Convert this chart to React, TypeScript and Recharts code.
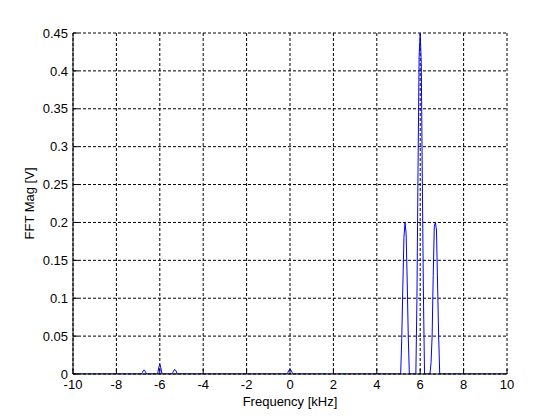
import React from 'react';
import { LineChart, Line, XAxis, YAxis, CartesianGrid } from 'recharts';

// Frequency axis samples (kHz) and FFT magnitude (V)
const freqKHz = [
  -10, -6.85, -6.8, -6.75, -6.7, -6.65, -6.6,
  -6.1, -6.05, -6.0, -5.95, -5.9,
  -5.45, -5.4, -5.35, -5.3, -5.25, -5.2,
  -0.15, -0.1, -0.05, 0, 0.05, 0.1, 0.15,
  5.1, 5.15, 5.2, 5.25, 5.3, 5.35, 5.4, 5.45, 5.5,
  5.8, 5.85, 5.9, 5.95, 6.0, 6.05, 6.1, 6.15, 6.2,
  6.45, 6.5, 6.55, 6.6, 6.65, 6.7, 6.75, 6.8, 6.85, 6.9,
  10,
];
const magV = [
  0, 0, 0.002, 0.005, 0.005, 0.002, 0,
  0, 0.008, 0.013, 0.008, 0,
  0, 0.002, 0.005, 0.006, 0.004, 0,
  0, 0.002, 0.005, 0.006, 0.005, 0.002, 0,
  0, 0.047, 0.115, 0.18, 0.2, 0.186, 0.124, 0.05, 0,
  0, 0.1, 0.27, 0.42, 0.449, 0.41, 0.25, 0.1, 0,
  0, 0.015, 0.05, 0.13, 0.195, 0.2, 0.19, 0.12, 0.05, 0,
  0,
];

const xTicks = [-10, -8, -6, -4, -2, 0, 2, 4, 6, 8, 10];
const yTicks = [0, 0.05, 0.1, 0.15, 0.2, 0.25, 0.3, 0.35, 0.4, 0.45];
const yTickLabels = ['0', '0.05', '0.1', '0.15', '0.2', '0.25', '0.3', '0.35', '0.4', '0.45'];

const xLabel = 'Frequency [kHz]';
const yLabel = 'FFT Mag [V]';

const data = freqKHz.map((f, i) => ({ f, m: magV[i] }));

const FONT = '"Liberation Sans", Arial, Helvetica, sans-serif';
const FS = 13;
const TL = 5;
const BOTTOM_MARGIN = 6;
const LEFT_MARGIN = 5;

const BottomTick = (props: any) => {
  const { x, y, payload } = props;
  const axisY = y - BOTTOM_MARGIN;
  return (
    <g>
      <line x1={x} x2={x} y1={axisY} y2={axisY - TL} stroke="#000" strokeWidth={1} />
      <text x={x} y={y} dy="0.71em" textAnchor="middle" fontSize={FS} fontFamily={FONT} fill="#000">
        {String(payload.value)}
      </text>
    </g>
  );
};

const LeftTick = (props: any) => {
  const { x, y, payload, index } = props;
  const axisX = x + LEFT_MARGIN;
  const idx = yTicks.indexOf(payload.value);
  const label = idx >= 0 ? yTickLabels[idx] : String(payload.value);
  return (
    <g>
      <line x1={axisX} x2={axisX + TL} y1={y} y2={y} stroke="#000" strokeWidth={1} />
      <text x={x} y={y} dy="0.355em" textAnchor="end" fontSize={FS} fontFamily={FONT} fill="#000">
        {label}
      </text>
    </g>
  );
};

const TopTick = (props: any) => {
  const { x, y } = props;
  return <line x1={x} x2={x} y1={y} y2={y + TL} stroke="#000" strokeWidth={1} />;
};

const RightTick = (props: any) => {
  const { x, y } = props;
  return <line x1={x} x2={x - TL} y1={y} y2={y} stroke="#000" strokeWidth={1} />;
};

const XLabelContent = (props: any) => {
  const { viewBox } = props;
  const cx = viewBox.x + viewBox.width / 2;
  return (
    <text x={cx} y={viewBox.y + 32} textAnchor="middle" fontSize={FS} fontFamily={FONT} fill="#000">
      {xLabel}
    </text>
  );
};

const YLabelContent = (props: any) => {
  const { viewBox } = props;
  const cx = viewBox.x + 29;
  const cy = viewBox.y + viewBox.height / 2;
  return (
    <text
      x={cx}
      y={cy}
      dy="0.355em"
      textAnchor="middle"
      fontSize={FS}
      fontFamily={FONT}
      fill="#000"
      transform={`rotate(-90 ${cx} ${cy})`}
    >
      {yLabel}
    </text>
  );
};

export default function App() {
  return (
    <div style={{ position: 'absolute', left: 0, top: 0, width: 560, height: 420, background: '#fff' }}>
      <LineChart width={560} height={420} data={data} margin={{ top: 33, right: 53, bottom: 0, left: 0 }}>
        <CartesianGrid stroke="#000" strokeDasharray="3 2" strokeWidth={1} />
        <XAxis
          dataKey="f"
          type="number"
          domain={[-10, 10]}
          ticks={xTicks}
          allowDataOverflow
          height={46}
          tickSize={0}
          tickMargin={BOTTOM_MARGIN}
          tickLine={false}
          axisLine={{ stroke: '#000', strokeWidth: 1 }}
          tick={<BottomTick />}
          interval={0}
          label={{ content: <XLabelContent /> }}
        />
        <XAxis
          xAxisId="top"
          dataKey="f"
          type="number"
          orientation="top"
          domain={[-10, 10]}
          ticks={xTicks}
          allowDataOverflow
          height={0}
          tickSize={0}
          tickMargin={0}
          tickLine={false}
          axisLine={{ stroke: '#000', strokeWidth: 1 }}
          tick={<TopTick />}
          interval={0}
        />
        <YAxis
          type="number"
          domain={[0, 0.45]}
          ticks={yTicks}
          allowDataOverflow
          width={73}
          tickSize={0}
          tickMargin={LEFT_MARGIN}
          tickLine={false}
          axisLine={{ stroke: '#000', strokeWidth: 1 }}
          tick={<LeftTick />}
          interval={0}
          label={{ content: <YLabelContent /> }}
        />
        <YAxis
          yAxisId="right"
          type="number"
          orientation="right"
          domain={[0, 0.45]}
          ticks={yTicks}
          allowDataOverflow
          width={0}
          tickSize={0}
          tickMargin={0}
          tickLine={false}
          axisLine={{ stroke: '#000', strokeWidth: 1 }}
          tick={<RightTick />}
          interval={0}
        />
        <Line
          type="linear"
          dataKey="m"
          stroke="#0000ff"
          strokeWidth={1}
          dot={false}
          activeDot={false}
          isAnimationActive={false}
        />
      </LineChart>
    </div>
  );
}
